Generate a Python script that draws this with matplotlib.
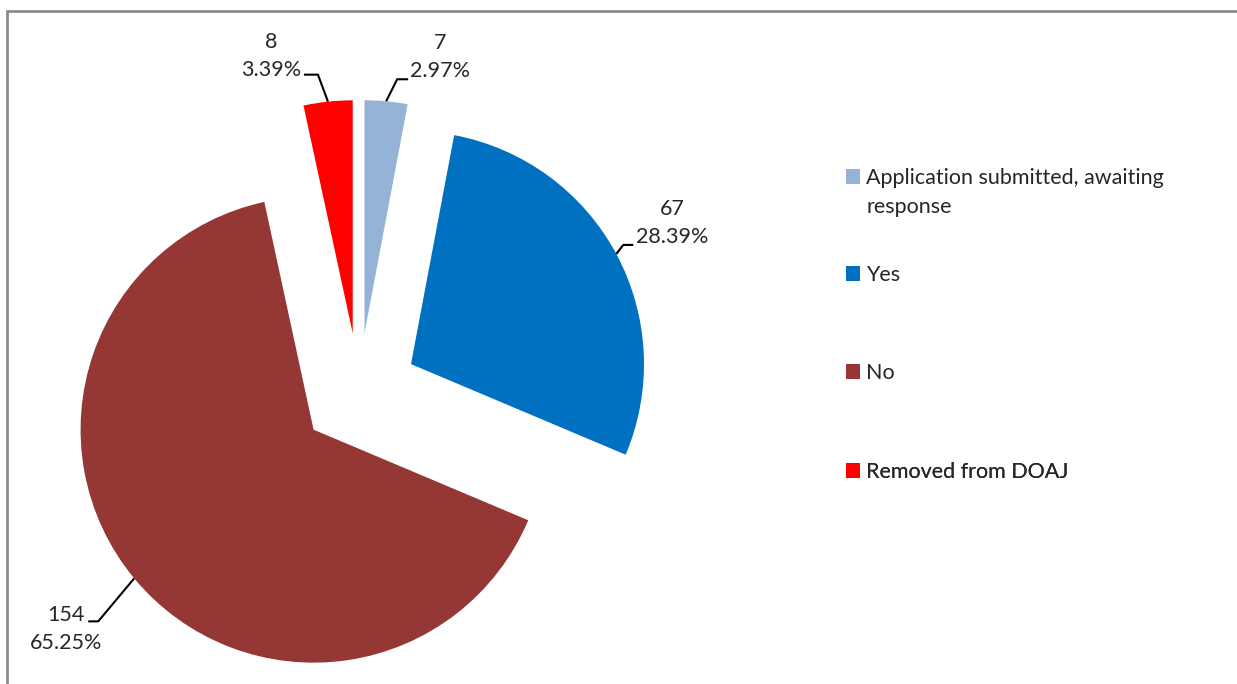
import numpy as np
import matplotlib
matplotlib.use("Agg")
from matplotlib import pyplot as plt
from matplotlib.patches import Rectangle

plt.rcParams['font.family'] = ['Lato', 'DejaVu Sans']

# Data
categories = ["Application submitted, awaiting", "Yes", "No", "Removed from DOAJ"]
category_wrap = ["response", "", "", ""]
counts = [7, 67, 154, 8]
percents = ["2.97%", "28.39%", "65.25%", "3.39%"]
colors = ["#95B3D7", "#0070C0", "#953735", "#FF0000"]

W, H = 1237, 684
fig = plt.figure(figsize=(W / 100, H / 100), dpi=100)
ax = fig.add_axes([0, 0, 1, 1])

# pie in pixel units, y up
radius = 233
center = (359, H - 392)
explode = [59] * len(counts)
wedges, _ = ax.pie(counts, colors=colors, startangle=90, counterclock=False,
                   radius=radius, center=center, explode=explode,
                   wedgeprops=dict(linewidth=0))
ax.set_xlim(0, W)
ax.set_ylim(0, H)
ax.set_aspect('equal')
ax.axis('off')

FS = 15.5
TXT = "#262626"

# label layout: leader elbow, leader end, text centre (offsets from arc midpoint, px)
leader_elbow = [(11, 22), (7, 9), (-36, -43), (-10, 27)]
leader_end = [(22, 22), (17, 9), (-46, -43), (-24, 27)]
text_off = [(54, 44), (56, 31), (-68, -51), (-57, 46)]

for i, w in enumerate(wedges):
    mid = np.deg2rad((w.theta1 + w.theta2) / 2)
    cx, cy = w.center
    px = cx + w.r * np.cos(mid)
    py = cy + w.r * np.sin(mid)
    ex, ey = leader_elbow[i]
    hx, hy = leader_end[i]
    ax.plot([px, px + ex, px + hx], [py, py + ey, py + hy], color="black", lw=1.5,
            solid_capstyle='butt')
    tx, ty = text_off[i]
    ax.text(px + tx, py + ty, f"{counts[i]}\n{percents[i]}", ha='center', va='center',
            multialignment='center', fontsize=FS, color=TXT, linespacing=1.5)

# legend, one entry per row
legend_y = [178, 275, 373, 472]
for w, lab, wrap, ly in zip(wedges, categories, category_wrap, legend_y):
    leg = ax.legend([w], [lab], loc='center left', frameon=False, fontsize=FS,
                    bbox_to_anchor=(846 / W, 1 - ly / H), bbox_transform=fig.transFigure,
                    handlelength=0.65, handleheight=0.65, handletextpad=0.3,
                    borderpad=0, borderaxespad=0, labelcolor=TXT)
    ax.add_artist(leg)
    if wrap:
        # second line of the wrapped legend label, drawn after the legend is placed
        ax.annotate(wrap, xy=(0, 0), xycoords=leg.get_texts()[0], xytext=(0, -29),
                    textcoords='offset pixels', ha='left', va='bottom',
                    fontsize=FS, color=TXT, zorder=10)

# chart area border (left and top edges visible)
fig.add_artist(Rectangle((7 / W, -0.5), 2.0, 1.5 - 11 / H, transform=fig.transFigure,
                         fill=False, edgecolor="#8C8C8C", lw=2))

fig.savefig("out.png", dpi=100)
